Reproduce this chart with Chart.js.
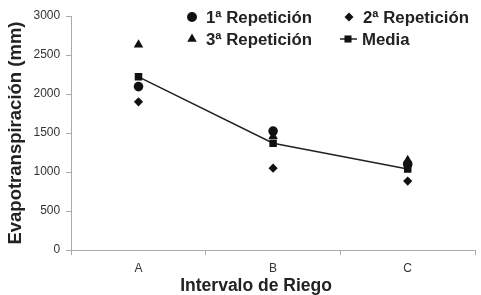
<!DOCTYPE html>
<html lang="es">
<head>
  <meta charset="UTF-8">
  <title>Evapotranspiración por intervalo de riego</title>
  <script src="https://cdn.jsdelivr.net/npm/chart.js"></script>
  <style>
    html, body { margin: 0; padding: 0; background: #fff; }
    #wrap { width: 481px; height: 295px; }
  </style>
</head>
<body>
<div id="wrap"><canvas id="grafico" width="481" height="295"></canvas></div>

<script>
  // datos
  const intervalos = ['A', 'B', 'C'];
  const rep1 = [2095, 1525, 1100];
  const rep2 = [1900, 1050, 885];
  const rep3 = [2630, 1460, 1150];
  const media = [2220, 1370, 1040];
  const ticksY = [0, 500, 1000, 1500, 2000, 2500, 3000];

  const fuente = '"Liberation Sans", Arial, sans-serif';

  // leyenda dibujada a mano, en dos columnas dentro del area
  const leyenda = {
    id: 'leyenda',
    afterDraw(chart) {
      const ctx = chart.ctx;
      const pos = [[192, 17], [349, 17], [192, 39], [348, 39]];
      ctx.save();
      ctx.font = 'bold 16.8px ' + fuente;
      ctx.textBaseline = 'middle';
      chart.data.datasets.forEach((ds, i) => {
        const [x, y] = pos[i];
        if (ds.showLine !== false) {
          ctx.strokeStyle = '#222';
          ctx.lineWidth = 1.5;
          ctx.beginPath();
          ctx.moveTo(x - 8, y);
          ctx.lineTo(x + 9, y);
          ctx.stroke();
        }
        ctx.fillStyle = '#111';
        Chart.helpers.drawPoint(ctx, {
          pointStyle: ds.pointStyle,
          radius: ds.legendRadius,
          rotation: 0,
          borderWidth: 0
        }, x, y);
        ctx.fillStyle = '#222';
        ctx.fillText(ds.label, x + 14, y + 1);
      });
      ctx.restore();
    }
  };

  new Chart(document.getElementById('grafico'), {
    type: 'line',
    data: {
      labels: intervalos,
      datasets: [
        { label: '1ª Repetición', data: rep1, showLine: false, pointStyle: 'circle', pointRadius: 4.8, legendRadius: 5, order: 1 },
        { label: '2ª Repetición', data: rep2, showLine: false, pointStyle: 'rectRot', pointRadius: 4.6, legendRadius: 4.5 },
        { label: '3ª Repetición', data: rep3, showLine: false, pointStyle: 'triangle', pointRadius: 5.5, legendRadius: 5.5 },
        { label: 'Media', data: media, pointStyle: 'rect', pointRadius: 5.3, legendRadius: 5, borderColor: '#222', borderWidth: 1.5, order: -1 }
      ].map(d => Object.assign({
        backgroundColor: '#111',
        borderColor: '#111',
        pointBackgroundColor: '#111',
        pointBorderWidth: 0,
        pointHoverRadius: 6,
        tension: 0,
        fill: false
      }, d))
    },
    options: {
      responsive: false,
      animation: false,
      layout: { padding: { top: 16, right: 1, left: 7, bottom: 0 } },
      plugins: { legend: { display: false }, tooltip: { enabled: false } },
      scales: {
        x: {
          offset: true,
          grid: { offset: true, drawOnChartArea: false, tickLength: 5, color: '#aaa' },
          border: { color: '#aaa' },
          ticks: { color: '#333', font: { family: fuente, size: 12 }, padding: 6 },
          // espacios finales para correr el titulo a la izquierda como en el original
          title: { display: true, text: 'Intervalo de Riego       ', color: '#222', font: { family: fuente, size: 17.5, weight: 'bold', lineHeight: 1 }, padding: { top: -4, bottom: 0 } }
        },
        y: {
          min: 0,
          max: 3000,
          afterBuildTicks(axis) { axis.ticks = ticksY.map(v => ({ value: v })); },
          grid: { drawOnChartArea: false, tickLength: 5, color: '#aaa' },
          border: { color: '#aaa' },
          ticks: { color: '#333', font: { family: fuente, size: 12 }, padding: 6, callback: v => String(v) },
          title: { display: true, text: 'Evapotranspiración (mm)', color: '#222', font: { family: fuente, size: 18.5, weight: 'bold', lineHeight: 1 }, padding: { top: 0, bottom: 2 } }
        }
      }
    },
    plugins: [leyenda]
  });
</script>
</body>
</html>
